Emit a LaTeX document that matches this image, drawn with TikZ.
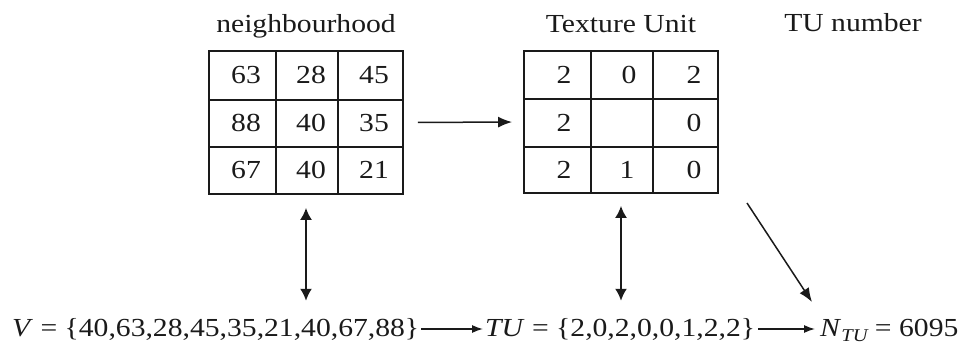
\documentclass[tikz,border=0pt]{standalone}
\usepackage{fontspec}
\setmainfont{Liberation Serif}[FakeStretch=1.14]
\usetikzlibrary{arrows.meta}
\definecolor{ink}{HTML}{1A1A1A}
\begin{document}
\begin{tikzpicture}[x=1pt,y=-1pt,
  every node/.style={text=ink, font=\fontsize{26}{30}\selectfont, inner sep=0pt},
  gridbox/.style={draw=ink, line width=1.8pt, minimum width=194pt, minimum height=143pt},
  rule/.style={draw=ink, line width=1.6pt},
  title/.style={anchor=base},
  formula/.style={anchor=base west},
  bigarrow/.style={draw=ink, line width=1.5pt, -{Latex[length=14pt,width=11pt]}},
  duparrow/.style={draw=ink, line width=1.8pt, {Latex[length=12pt,width=12pt]}-{Latex[length=12pt,width=12pt]}},
  smallarrow/.style={draw=ink, line width=1.3pt, -{Latex[length=11pt,width=8pt]}}]
\useasboundingbox (0,0) rectangle (969,347);

% headings
\node[title] (hnb) at (306,33) {neighbourhood};
\node[title] (htx) at (621,33) {Texture Unit};
\node[title] (htu) at (853,32) {TU number};

% 3x3 neighbourhood
\node[gridbox] (nb) at (306,122.5) {};
\draw[rule] (276,51) -- (276,194) (338,51) -- (338,194)
            (209,100) -- (403,100) (209,147) -- (403,147);
\foreach \v/\x/\y/\nm in {63/246/75/na, 28/311/75/nb1, 45/374/75/nc,
                          88/246/123/nd, 40/311/123/ne, 35/374/123/nf,
                          67/246/170/ng, 40/311/170/nh, 21/374/170/ni}
  \node (\nm) at (\x,\y) {\v};

% texture unit
\node[gridbox, minimum height=142pt] (tx) at (621,122) {};
\draw[rule] (591,51) -- (591,193) (653,51) -- (653,193)
            (524,99) -- (718,99) (524,147) -- (718,147);
\foreach \v/\x/\y/\nm in {2/564/75/ta, 0/629/75/tb, 2/694/75/tc,
                          2/564/123/td, 0/694/123/tf,
                          2/564/170/tg, 1/627/170/th, 0/694/170/ti}
  \node (\nm) at (\x,\y) {\v};

% formulas along the bottom
\node[formula] (vset) at (12,337) {\textit{V} = \{40,63,28,45,35,21,40,67,88\}};
\node[formula] (tuset) at (485,337) {\textit{TU} = \{2,0,2,0,0,1,2,2\}};
\node[formula] (nset) at (820,337) {\textit{N}\raisebox{-5pt}{\fontsize{18}{18}\selectfont\itshape TU} = 6095};

% connectors
\draw[bigarrow, shorten <=14pt, shorten >=11pt] (nb.east) -- (tx.west);
\draw[duparrow, shorten <=13pt, shorten >=18pt] (nb.south) -- (nb.south |- vset.north);
\draw[duparrow, shorten <=12pt, shorten >=18pt] (tx.south) -- (tx.south |- tuset.north);
\coordinate (d0) at (747,203);
\coordinate (d1) at (812,302);
\draw[bigarrow] (d0) -- (d1);
\draw[smallarrow, shorten <=2pt, shorten >=2pt] ([yshift=8pt]vset.base east) -- ([yshift=8pt]tuset.base west);
\draw[smallarrow, shorten <=3pt, shorten >=5pt] ([yshift=8pt]tuset.base east) -- ([yshift=8pt]nset.base west);
\end{tikzpicture}
\end{document}
